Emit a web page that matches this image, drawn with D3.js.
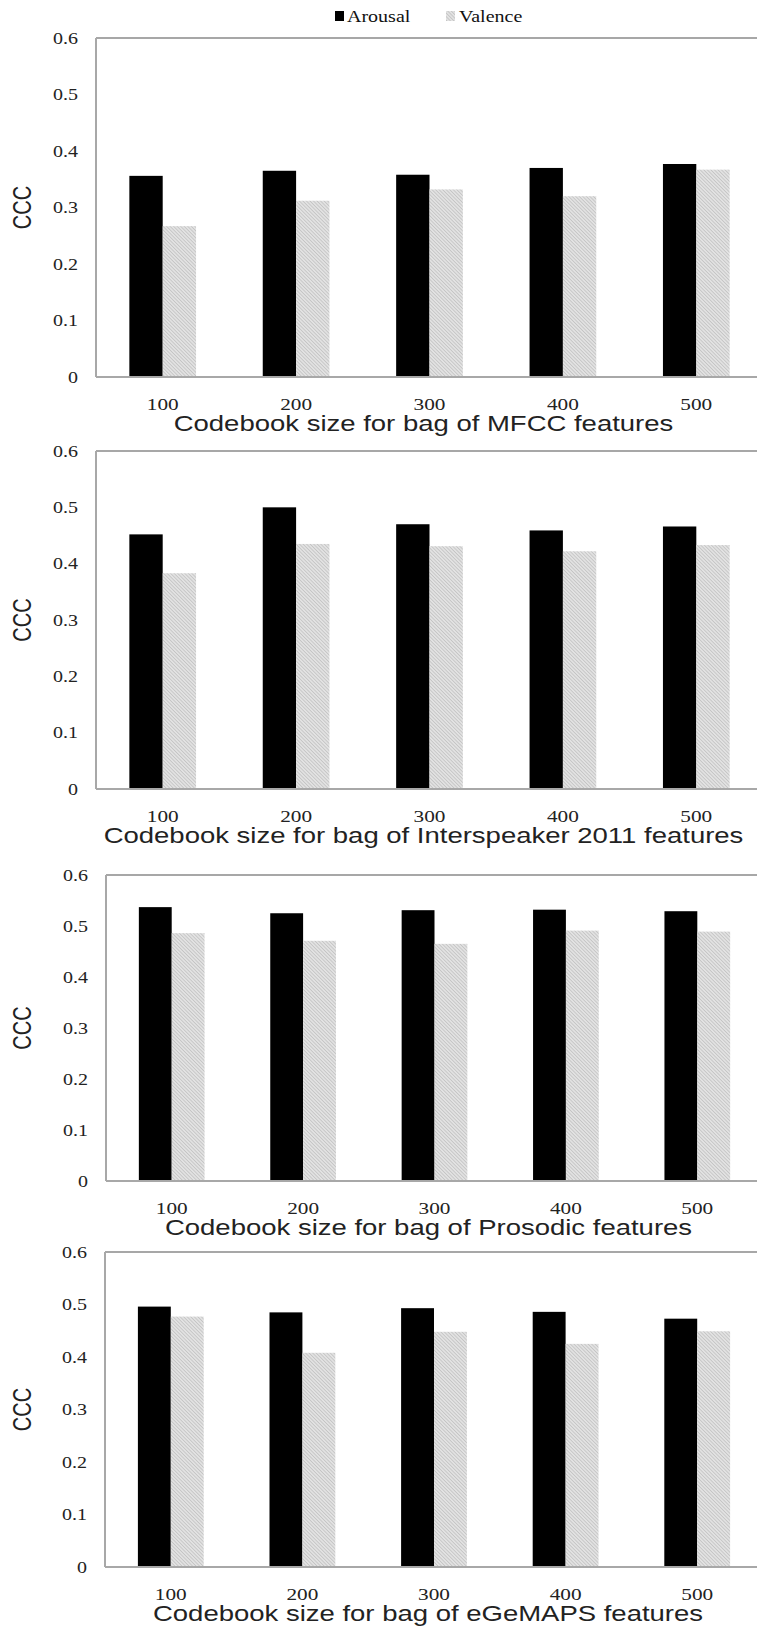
<!DOCTYPE html>
<html>
<head>
<meta charset="utf-8">
<script src="https://cdn.jsdelivr.net/npm/d3@7"></script>
<style>
  body { margin: 0; background: #fff; }
  .serif { font-family: "Liberation Serif", "Times New Roman", serif; }
  .sans { font-family: "Liberation Sans", Arial, sans-serif; }
</style>
</head>
<body>
<div id="chart-area"></div>
<script>
// data
var categories = ["100", "200", "300", "400", "500"];
var seriesNames = ["Arousal", "Valence"];
var yTicks = [0, 0.1, 0.2, 0.3, 0.4, 0.5, 0.6];

var mfccArousal = [0.356, 0.365, 0.358, 0.370, 0.377];
var mfccValence = [0.267, 0.312, 0.332, 0.320, 0.367];
var isArousal = [0.452, 0.500, 0.470, 0.459, 0.466];
var isValence = [0.383, 0.435, 0.431, 0.422, 0.433];
var prosArousal = [0.537, 0.525, 0.531, 0.532, 0.529];
var prosValence = [0.486, 0.471, 0.465, 0.491, 0.489];
var egeArousal = [0.496, 0.485, 0.493, 0.486, 0.473];
var egeValence = [0.477, 0.408, 0.448, 0.425, 0.449];

var panelTitles = [
    "Codebook size for bag of MFCC features",
    "Codebook size for bag of Interspeaker 2011 features",
    "Codebook size for bag of Prosodic features",
    "Codebook size for bag of eGeMAPS features"
];

// layout of each panel (top, zero line, left edge)
var layout = [
    { top: 38, bottom: 377, left: 96 },
    { top: 451, bottom: 789, left: 96 },
    { top: 875, bottom: 1181, left: 106 },
    { top: 1252, bottom: 1567, left: 105 }
];
var plotRight = 763;
var SX = 1.25; // figure was stretched horizontally

var panels = [
    [mfccArousal, mfccValence],
    [isArousal, isValence],
    [prosArousal, prosValence],
    [egeArousal, egeValence]
].map(function(s, i) {
    return {
        title: panelTitles[i],
        rows: categories.map(function(c, j) {
            return { cat: c, values: [{ key: "Arousal", v: s[0][j] }, { key: "Valence", v: s[1][j] }] };
        })
    };
});

var svg = d3.select("#chart-area")
    .append("svg")
    .attr("width", 757)
    .attr("height", 1633);

// fine hatched gray fill for valence
var defs = svg.append("defs");
var pat = defs.append("pattern")
    .attr("id", "hatch")
    .attr("patternUnits", "userSpaceOnUse")
    .attr("width", 2.5)
    .attr("height", 2.5)
    .attr("patternTransform", "rotate(45)");
pat.append("rect").attr("width", 2.5).attr("height", 2.5).attr("fill", "#e4e4e4");
pat.append("line")
    .attr("x1", 0).attr("y1", 1.25).attr("x2", 2.5).attr("y2", 1.25)
    .attr("stroke", "#c4c4c4").attr("stroke-width", 0.9);

var color = d3.scaleOrdinal().domain(seriesNames).range(["#000", "url(#hatch)"]);

function stretchedText(g, x, y, txt) {
    return g.append("text")
        .attr("transform", "translate(" + x + "," + y + ") scale(" + SX + ",1)")
        .text(txt);
}

// legend
var legend = svg.append("g");
legend.append("rect").attr("x", 335).attr("y", 11).attr("width", 9).attr("height", 10).attr("fill", "#000");
stretchedText(legend, 347, 22, "Arousal")
    .attr("class", "serif").style("font-size", "16px").attr("fill", "#111");
legend.append("rect").attr("x", 446).attr("y", 11).attr("width", 9).attr("height", 10).attr("fill", "url(#hatch)");
stretchedText(legend, 459, 22, "Valence")
    .attr("class", "serif").style("font-size", "16px").attr("fill", "#111");

panels.forEach(function(p, i) {
    var L = layout[i];
    var g = svg.append("g");

    var x0 = d3.scaleBand()
        .domain(categories)
        .range([L.left, plotRight])
        .paddingInner(0.5)
        .paddingOuter(0.25);

    var x1 = d3.scaleBand()
        .domain(seriesNames)
        .range([0, x0.bandwidth()]);

    var y = d3.scaleLinear()
        .domain([0, 0.6])
        .range([L.bottom, L.top]);

    // frame
    g.append("line")
        .attr("x1", L.left).attr("x2", 757)
        .attr("y1", y(0.6)).attr("y2", y(0.6))
        .attr("stroke", "#8a8a8a").attr("stroke-width", 1.5);
    g.append("line")
        .attr("x1", L.left).attr("x2", L.left)
        .attr("y1", y(0.6)).attr("y2", y(0))
        .attr("stroke", "#a8a8a8").attr("stroke-width", 2);

    // bars
    var groups = g.selectAll(".grp")
        .data(p.rows)
        .enter()
        .append("g")
        .attr("transform", function(d) { return "translate(" + x0(d.cat) + ",0)"; });

    groups.selectAll("rect")
        .data(function(d) { return d.values; })
        .enter()
        .append("rect")
        .attr("x", function(d) { return x1(d.key); })
        .attr("y", function(d) { return y(d.v); })
        .attr("width", x1.bandwidth())
        .attr("height", function(d) { return y(0) - y(d.v); })
        .attr("fill", function(d) { return color(d.key); });

    g.append("line")
        .attr("x1", L.left).attr("x2", 757)
        .attr("y1", y(0)).attr("y2", y(0))
        .attr("stroke", "#a8a8a8").attr("stroke-width", 2);

    // y axis labels
    var yAxis = g.append("g")
        .attr("transform", "translate(" + (L.left - 18) + ",0)")
        .call(d3.axisLeft(y).tickValues(yTicks).tickSize(0)
            .tickFormat(function(d) { return d === 0 ? "0" : d3.format(".1f")(d); }));
    yAxis.select(".domain").remove();
    yAxis.selectAll("text")
        .attr("x", 0)
        .attr("transform", "scale(" + SX + ",1)")
        .attr("class", "serif")
        .style("font-size", "16px")
        .attr("fill", "#222");

    // x axis labels
    var xAxis = g.append("g")
        .attr("transform", "translate(0," + (y(0) + 17) + ")")
        .call(d3.axisBottom(x0).tickSize(0));
    xAxis.select(".domain").remove();
    xAxis.selectAll(".tick text")
        .attr("y", 0)
        .attr("dy", "0.95em")
        .attr("transform", "scale(" + SX + ",1)")
        .attr("class", "serif")
        .style("font-size", "17px")
        .attr("fill", "#222");

    // titles
    stretchedText(g, (L.left + plotRight) / 2 - 6, y(0) + 54, p.title)
        .attr("text-anchor", "middle")
        .attr("class", "sans")
        .style("font-size", "22px")
        .attr("fill", "#222");

    g.append("text")
        .attr("transform", "translate(31," + (y(0.3)) + ") scale(" + SX + ",1) rotate(-90)")
        .attr("text-anchor", "middle")
        .attr("class", "sans")
        .style("font-size", "20px")
        .attr("fill", "#222")
        .text("CCC");
});
</script>
</body>
</html>
